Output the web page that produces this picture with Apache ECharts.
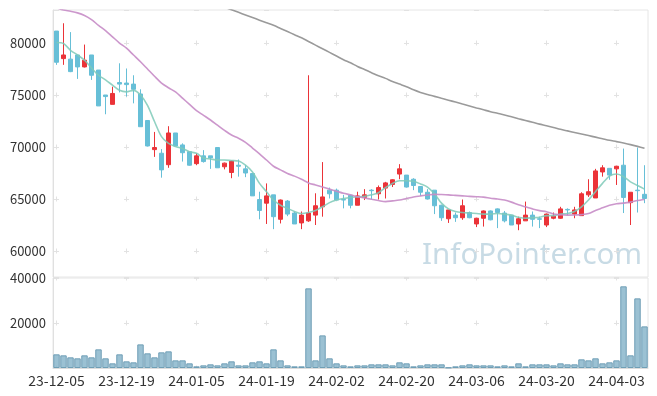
<!DOCTYPE html>
<html><head><meta charset="utf-8">
<script src="https://cdn.jsdelivr.net/npm/echarts@6/dist/echarts.min.js"></script>
<style>html,body{margin:0;padding:0;background:#fff}#c{width:657px;height:396px}</style>
</head><body><div id="c"></div>
<script>
const dates = ['23-12-05','23-12-06','23-12-07','23-12-08','23-12-11','23-12-12','23-12-13','23-12-14','23-12-15','23-12-18','23-12-19','23-12-20','23-12-21','23-12-22','23-12-26','23-12-27','23-12-28',
'24-01-02','24-01-03','24-01-04','24-01-05','24-01-08','24-01-09','24-01-10','24-01-11','24-01-12','24-01-15','24-01-16','24-01-17','24-01-18','24-01-19','24-01-22','24-01-23','24-01-24','24-01-25','24-01-26','24-01-29','24-01-30','24-01-31',
'24-02-01','24-02-02','24-02-05','24-02-06','24-02-07','24-02-08','24-02-13','24-02-14','24-02-15','24-02-16','24-02-19','24-02-20','24-02-21','24-02-22','24-02-23','24-02-26','24-02-27','24-02-28','24-02-29',
'24-03-04','24-03-05','24-03-06','24-03-07','24-03-08','24-03-11','24-03-12','24-03-13','24-03-14','24-03-15','24-03-18','24-03-19','24-03-20','24-03-21','24-03-22','24-03-25','24-03-26','24-03-27','24-03-28','24-03-29',
'24-04-01','24-04-02','24-04-03','24-04-04','24-04-05','24-04-08','24-04-09'];

const openP = [81150,78500,78450,78850,77700,78850,77400,75000,74100,76200,76150,76050,75100,72550,69750,69400,68300,71350,70200,69550,68400,69150,69150,69950,68100,67550,68250,67900,67450,64950,64600,65400,63050,64800,63650,62700,62900,63450,64250,65850,65850,64950,65350,64400,65150,65850,65500,66050,66400,67400,67300,66900,66200,65650,65850,64400,63100,63450,63200,63700,62600,63150,63850,64050,63650,63450,62600,62900,63450,63100,62500,63150,63150,64000,63550,63400,65400,65100,67600,67950,67900,68250,64650,65850,65450];
const closeP = [78150,78850,77250,77700,78350,76900,73950,74850,75150,76050,76000,75550,71950,70100,69950,67800,71350,70100,69450,68250,69150,68600,68950,68000,68450,68650,68150,67500,65300,63900,65300,63300,64900,63550,62600,63450,63650,64350,65200,65500,64900,64900,64400,65300,65400,65800,66100,66550,66850,67900,66150,66300,65650,65000,64350,63200,63950,63200,64350,63200,63150,63850,63000,63700,62900,62500,63100,63450,63050,63050,63550,63350,64050,63950,63950,65500,65700,67700,68000,67300,68150,65150,65650,65800,65050];
const lowP = [77900,77900,77200,76550,77650,76450,73950,73150,74100,75250,74850,74200,71950,70050,69050,67050,68000,70100,68600,68200,68250,68500,67900,68000,67850,67000,67150,67100,65300,63050,62600,62100,62650,63350,62600,62100,62800,62500,63300,65050,64900,64100,64100,64400,64900,64950,64950,65050,66150,66900,66100,65850,65300,64950,63550,62900,62700,62800,63000,63150,62300,62350,62950,62200,62750,62500,62000,62900,62350,62200,62300,63050,63100,63450,63150,63400,65200,65100,67150,66850,66350,63650,62500,63700,64600];
const highP = [81150,81900,81050,78850,79850,78850,77400,75000,75800,78050,77550,76900,75550,72550,71450,69800,72000,71350,70350,69550,69400,69700,69150,69950,68500,68700,68800,68250,67450,65700,66500,65400,64950,64900,63800,63800,76900,65550,68550,66100,66000,65400,65400,65700,65950,65950,66300,66650,66900,68350,67300,67000,66250,65950,65850,64450,63950,63700,64950,63800,63200,63900,63900,64100,63850,63450,63300,64750,63800,63300,63600,63700,64250,64100,64250,65650,66900,67900,68250,67950,68200,69850,65650,69950,68250];
const volume = [6070,5630,4740,4300,5630,4740,8290,4300,2070,6070,2960,2520,10500,6520,4740,6960,7400,3400,3400,2070,740,1180,1630,1180,2070,2960,1180,1180,2520,2960,2070,8290,3400,1180,740,740,35400,3400,14500,4300,2070,1180,740,1180,1180,1630,1630,1630,1180,2520,2070,740,1180,1630,1630,1630,200,740,1180,1630,1180,1180,1180,740,1180,740,2070,740,1630,1630,1630,1180,2070,1630,1630,3850,3400,4300,2070,2520,3400,36300,5630,30950,18500];
const ma5 = [80050,79950,79300,78850,78350,77600,76900,76450,75950,75450,75300,75450,75000,74000,72450,71000,70350,70050,69850,69550,69400,68950,68850,68750,68750,68700,68650,68250,67600,66500,65700,64900,64400,64100,63800,63600,63700,63900,64250,64650,64900,65050,65150,65200,65250,65400,65600,66100,66500,66750,66750,66700,66450,66150,65500,64600,64050,63800,63700,63650,63600,63550,63550,63600,63550,63450,63250,63150,63200,63250,63400,63400,63550,63600,63800,64250,64900,65700,66500,67200,67400,67150,66650,66300,65950];
const ma20 = [83400,83170,83050,82900,82650,82250,81700,81200,80600,80000,79500,78850,78200,77500,76800,76150,75700,75300,74700,74100,73500,73050,72600,72100,71600,71150,70850,70450,69900,69350,68750,68150,67800,67450,67200,66900,66550,66350,66150,65950,65750,65550,65400,65220,65100,64970,64850,64750,64820,64900,65050,65200,65300,65380,65450,65430,65400,65350,65300,65250,65220,65180,65080,65000,64900,64700,64450,64250,64050,63880,63780,63550,63480,63450,63460,63500,63600,63900,64150,64400,64550,64600,64700,64850,64950];
const ma60 = [null,null,null,null,null,null,null,null,null,null,null,null,null,null,null,null,null,null,null,null,null,null,null,83700,83450,83200,82950,82700,82450,82200,81950,81700,81400,81100,80800,80500,80150,79800,79450,79100,78750,78400,78100,77750,77450,77150,76850,76600,76300,76050,75800,75500,75250,75050,74870,74680,74500,74320,74130,73950,73760,73580,73400,73240,73080,72900,72720,72550,72380,72200,72050,71880,71700,71550,71400,71250,71100,70950,70800,70650,70520,70380,70230,70060,69880];

const candles = dates.map((d, i) => [openP[i], closeP[i], lowP[i], highP[i]]);
const grey = '#e2e2e2';
const labelFont = '"Noto Sans CJK KR", "Noto Sans", sans-serif';
const plain = v => String(v);

const chart = echarts.init(document.getElementById('c'), null, {renderer: 'canvas'});
chart.setOption({
  animation: false,
  backgroundColor: '#fff',
  graphic: [{
    type: 'text', left: 422, top: 241, z: -10, silent: true,
    style: { text: 'InfoPointer.com', font: '29.5px "Noto Sans", sans-serif', fill: '#c8dbe5' }
  }],
  grid: [
    { left: 53, right: 9, top: 10, height: 267, show: true, borderColor: '#e6e6e6', borderWidth: 1 },
    { left: 53, right: 9, top: 278, height: 90, show: true, borderColor: '#e6e6e6', borderWidth: 1 }
  ],
  xAxis: [
    { type: 'category', gridIndex: 0, data: dates, boundaryGap: true,
      axisLine: { show: false }, axisTick: { show: false }, axisLabel: { show: false },
      splitLine: { show: true, interval: 9, alignWithLabel: true, lineStyle: { color: grey, type: [5, 47], dashOffset: 21.5 } } },
    { type: 'category', gridIndex: 1, data: dates, boundaryGap: true,
      axisLine: { show: true, lineStyle: { color: '#dcdcdc' } }, axisTick: { show: false },
      axisLabel: { interval: 9, color: '#333', fontSize: 14, fontFamily: labelFont, margin: 6 },
      splitLine: { show: true, interval: 9, alignWithLabel: true, lineStyle: { color: grey, type: [5, 40], dashOffset: 2.5 } } }
  ],
  yAxis: [
    { type: 'value', gridIndex: 0, min: 57500, max: 83175, scale: true,
      axisLine: { show: true, lineStyle: { color: '#e0e0e0' } }, axisTick: { show: false },
      axisLabel: { color: '#333', fontSize: 13, fontFamily: labelFont, showMinLabel: false, showMaxLabel: false, margin: 7, formatter: plain },
      splitLine: { show: true, lineStyle: { color: grey, type: [5, 65], dashOffset: -1 } } },
    { type: 'value', gridIndex: 1, min: 0, max: 40000, interval: 20000,
      axisLine: { show: true, lineStyle: { color: '#e0e0e0' } }, axisTick: { show: false },
      axisLabel: { color: '#333', fontSize: 13, fontFamily: labelFont, showMinLabel: false, margin: 7, formatter: plain },
      splitLine: { show: true, lineStyle: { color: grey, type: [5, 65], dashOffset: -1 } } }
  ],
  series: [
    { name: 'candle', type: 'candlestick', xAxisIndex: 0, yAxisIndex: 0, data: candles, barWidth: 5,
      itemStyle: { color: '#eb3338', color0: '#67bfd7', borderColor: '#eb3338', borderColor0: '#67bfd7', borderWidth: 1 } },
    { name: 'MA5', type: 'line', xAxisIndex: 0, yAxisIndex: 0, data: ma5, showSymbol: false, smooth: 0.3,
      lineStyle: { color: '#7fcab9', width: 1.6, opacity: 0.85 }, z: 3 },
    { name: 'MA20', type: 'line', xAxisIndex: 0, yAxisIndex: 0, data: ma20, showSymbol: false, smooth: 0.3,
      lineStyle: { color: '#c68cc6', width: 1.6, opacity: 0.9 }, z: 3 },
    { name: 'MA60', type: 'line', xAxisIndex: 0, yAxisIndex: 0, data: ma60, showSymbol: false, smooth: 0.3,
      lineStyle: { color: '#9a9a9a', width: 1.6 }, z: 3 },
    { name: 'volume', type: 'bar', xAxisIndex: 1, yAxisIndex: 1, data: volume, barCategoryGap: '8%',
      itemStyle: { color: 'rgba(130,178,200,0.8)', borderColor: '#6f9fb6', borderWidth: 1 } }
  ]
});
</script></body></html>
